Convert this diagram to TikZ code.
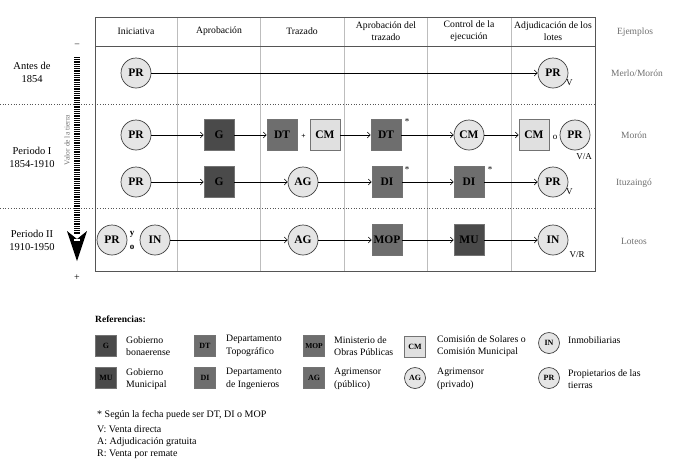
\documentclass[tikz,border=0pt]{standalone}
\usepackage{fontspec}
\setmainfont{Liberation Serif}
\usetikzlibrary{arrows.meta}
\definecolor{lgray}{HTML}{BDBDBD}
\definecolor{bgray}{HTML}{555555}
\definecolor{tgray}{HTML}{707070}
\begin{document}
\begin{tikzpicture}[x=1pt,y=-1pt,
  circ/.style={circle,draw=black!75,line width=0.7pt,fill=black!10,minimum size=30pt,inner sep=0pt,font=\bfseries\fontsize{11.5}{11.5}\selectfont},
  sqd/.style={rectangle,draw=black!55,line width=0.6pt,fill=black!71,minimum width=30pt,minimum height=31pt,inner sep=0pt,font=\bfseries\fontsize{11.5}{11.5}\selectfont},
  sqm/.style={sqd,fill=black!57},
  sql/.style={sqd,fill=black!12},
  lcirc/.style={circ,minimum size=21pt,font=\bfseries\fontsize{8}{8}\selectfont},
  lsqd/.style={sqd,minimum width=21pt,minimum height=21pt,font=\bfseries\fontsize{8}{8}\selectfont},
  lsqm/.style={lsqd,fill=black!57},
  lsql/.style={lsqd,fill=black!12},
  conn/.style={-{Straight Barb[length=3pt,width=6pt]},line width=0.6pt},
  hdr/.style={align=center,font=\fontsize{9.7}{11.5}\selectfont},
  side/.style={align=center,font=\fontsize{10.5}{13}\selectfont},
  expl/.style={text=tgray,font=\fontsize{9.5}{12}\selectfont},
  small/.style={font=\fontsize{9}{9}\selectfont,inner sep=0pt},
  lgtxt/.style={anchor=west,align=left,font=\fontsize{9.8}{12.5}\selectfont,inner sep=0pt},
  foot/.style={anchor=west,font=\fontsize{10}{11}\selectfont,inner sep=0pt},
  dotline/.style={dotted,line width=0.7pt,bgray}
]
\useasboundingbox (0,0) rectangle (679,472);
% grid
\foreach \x in {177,260,344,427,511} \draw[lgray,line width=0.6pt] (\x,17) -- (\x,271);
\draw[bgray,line width=0.8pt] (95,46) -- (595,46);
\draw[dotline] (0,104) -- (595,104);
\draw[dotline] (0,208) -- (595,208);
\draw[bgray,line width=1pt] (95,17) rectangle (595,271);
% headers
\node[hdr] (h1) at (136,31) {Iniciativa};
\node[hdr] (h2) at (219,31) {Aprobación};
\node[hdr] (h3) at (302,31) {Trazado};
\node[hdr] (h4) at (386,31) {Aprobación del\\trazado};
\node[hdr] (h5) at (469,31) {Control de la\\ejecución};
\node[hdr] (h6) at (553,31) {Adjudicación de los\\lotes};
\node[expl] (h7) at (635,32) {Ejemplos};
% side labels
\node[side] (s1) at (32,72) {Antes de\\1854};
\node[side] (s2) at (32,157) {Periodo I\\1854-1910};
\node[side] (s3) at (32,240) {Periodo II\\1910-1950};
% examples
\node[expl] (e1) at (637,73) {Merlo/Morón};
\node[expl] (e2) at (634,135) {Morón};
\node[expl] (e3) at (634,183) {Ituzaingó};
\node[expl] (e4) at (634,241) {Loteos};
% value scale
\draw[black,line width=6.5pt,dash pattern=on 0.9pt off 0.9pt] (77,57) -- (77,234);
\fill[black] (67,231) -- (77,239) -- (87,231) -- (77,261) -- cycle;
\draw[white,line width=1.5pt] (74,240) -- (80,240);
\node[font=\fontsize{9}{9}\selectfont] (minus) at (77,45) {--};
\node[font=\fontsize{10}{10}\selectfont] (plus) at (77,278) {+};
\node[rotate=90,text=tgray,font=\fontsize{7.5}{7.5}\selectfont] (vt) at (67,140) {Valor de la tierra};
% row 1
\node[circ] (a1) at (136,73) {PR};
\node[circ] (a2) at (553,73) {PR};
\node[small,anchor=west] (a2l) at (566,83) {V};
\draw[conn] (a1) -- (a2);
% row 2
\node[circ] (b1) at (136,135) {PR};
\node[sqd] (b2) at (219,135) {G};
\node[sqm] (b3) at (282,135) {DT};
\node[small,font=\bfseries\fontsize{7.5}{7.5}\selectfont] (bplus) at (303.5,136) {+};
\node[sql] (b4) at (325,135) {CM};
\node[sqm] (b5) at (386,135) {DT};
\node[small] (b5s) at (407,122) {*};
\node[circ] (b6) at (469,135) {CM};
\node[sql] (b7) at (534,135) {CM};
\node[small] (bo) at (555,137) {o};
\node[circ] (b8) at (575,135) {PR};
\node[small] (b8l) at (584,157) {V/A};
\draw[conn] (b1) -- (b2);
\draw[conn] (b2) -- (b3);
\draw[conn] (b4) -- (b5);
\draw[conn] (b5) -- (b6);
\draw[conn] (b6) -- (b7);
% row 3
\node[circ] (c1) at (136,182) {PR};
\node[sqd] (c2) at (219,182) {G};
\node[circ] (c3) at (303,182) {AG};
\node[sqm] (c4) at (387,182) {DI};
\node[small] (c4s) at (407,170) {*};
\node[sqm] (c5) at (469,182) {DI};
\node[small] (c5s) at (490,170) {*};
\node[circ] (c6) at (553,182) {PR};
\node[small,anchor=west] (c6l) at (566,192) {V};
\draw[conn] (c1) -- (c2);
\draw[conn] (c2) -- (c3);
\draw[conn] (c3) -- (c4);
\draw[conn] (c4) -- (c5);
\draw[conn] (c5) -- (c6);
% row 4
\node[circ] (d1) at (112,240) {PR};
\node[small,font=\bfseries\fontsize{9}{9}\selectfont] (dy) at (132,234) {y};
\node[small,font=\bfseries\fontsize{9}{9}\selectfont] (do) at (132,247) {o};
\node[circ] (d2) at (155,240) {IN};
\node[circ] (d3) at (303,240) {AG};
\node[sqm] (d4) at (387,240) {MOP};
\node[sqd] (d5) at (469,240) {MU};
\node[circ] (d6) at (553,240) {IN};
\node[small] (d6l) at (577,255) {V/R};
\draw[conn] (d2) -- (d3);
\draw[conn] (d3) -- (d4);
\draw[conn] (d4) -- (d5);
\draw[conn] (d5) -- (d6);
% legend
\node[anchor=west,inner sep=0pt,font=\bfseries\fontsize{9.5}{11}\selectfont] (ref) at (95,319) {Referencias:};
\node[lsqd] (l1) at (106,346) {G};
\node[lgtxt] (l1t) at (126,346) {Gobierno\\bonaerense};
\node[lsqm] (l2) at (205,346) {DT};
\node[lgtxt] (l2t) at (226,346) {Departamento\\Topográfico};
\node[lsqm,font=\bfseries\fontsize{7.5}{8}\selectfont] (l3) at (314,346) {MOP};
\node[lgtxt] (l3t) at (334,346) {Ministerio de\\Obras Públicas};
\node[lsql] (l4) at (415,347) {CM};
\node[lgtxt] (l4t) at (437,346) {Comisión de Solares o\\Comisión Municipal};
\node[lcirc] (l5) at (549,343) {IN};
\node[lgtxt] (l5t) at (568,340) {Inmobiliarias};
\node[lsqd] (m1) at (106,378) {MU};
\node[lgtxt] (m1t) at (126,379) {Gobierno\\Municipal};
\node[lsqm] (m2) at (205,378) {DI};
\node[lgtxt] (m2t) at (226,379) {Departamento\\de Ingenieros};
\node[lsqm] (m3) at (314,378) {AG};
\node[lgtxt] (m3t) at (334,379) {Agrimensor\\(público)};
\node[lcirc] (m4) at (415,378) {AG};
\node[lgtxt] (m4t) at (437,379) {Agrimensor\\(privado)};
\node[lcirc] (m5) at (549,378) {PR};
\node[lgtxt] (m5t) at (568,379) {Propietarios de las\\tierras};
% footnotes
\node[foot] (f1) at (97,415) {* Según la fecha puede ser DT, DI o MOP};
\node[foot] (f2) at (97,429) {V: Venta directa};
\node[foot] (f3) at (97,442) {A: Adjudicación gratuita};
\node[foot] (f4) at (97,454) {R: Venta por remate};
\end{tikzpicture}
\end{document}
